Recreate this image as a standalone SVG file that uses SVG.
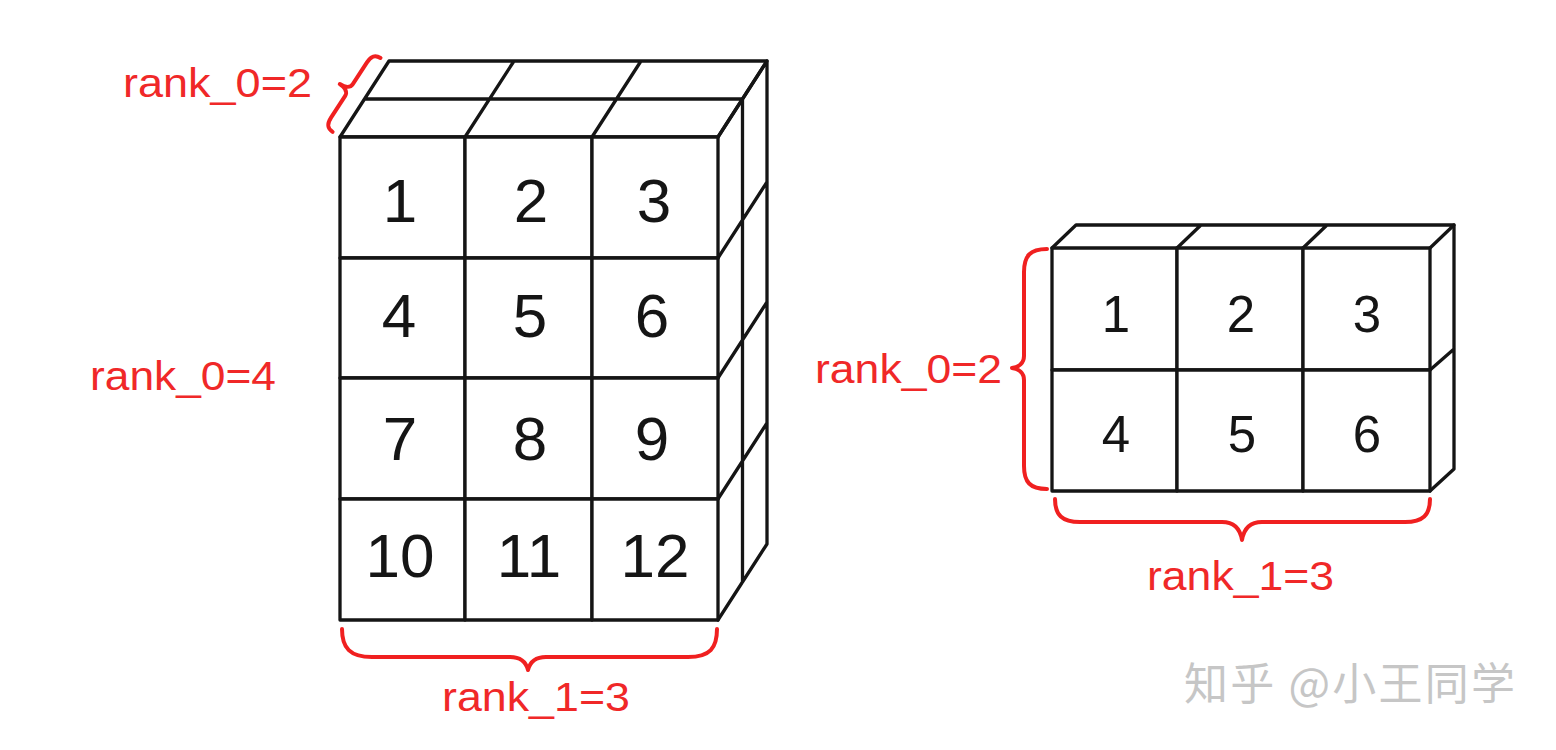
<svg xmlns="http://www.w3.org/2000/svg" width="1556" height="750" viewBox="0 0 1556 750">
<style>
.ln{fill:none;stroke:#151515;stroke-width:3.3;stroke-linejoin:round;stroke-linecap:round}
.cell{fill:#fff;stroke:#151515;stroke-width:3.3;stroke-linejoin:round}
.dl{font-family:"Liberation Sans",Arial,sans-serif;font-size:62px;fill:#151515;text-anchor:middle}
.ds{font-family:"Liberation Sans",Arial,sans-serif;font-size:51px;fill:#151515;text-anchor:middle}
.lab{font-family:"Liberation Sans",Arial,sans-serif;font-size:40px;fill:#f02828}
.br{fill:none;stroke:#f02020;stroke-width:4;stroke-linecap:round;stroke-linejoin:round}
.wm{font-family:"Noto Sans CJK SC","Noto Sans",sans-serif;font-size:44px;fill:#c6c6c6}
</style>
<rect width="1556" height="750" fill="#fff"/>

<g id="tensor-4x3">
  <g id="left-top-face">
    <path class="ln" d="M340,137 L389,61 L767,61 L718,137 Z M364.5,99 L742.5,99 M465,137 L514,61 M592,137 L641,61"/>
  </g>
  <g id="left-side-face">
    <path class="ln" d="M718,137 L767,61 L767,544 L718,620 M742.5,99 L742.5,582 M718,258 L767,182 M718,378 L767,302 M718,499 L767,423"/>
  </g>
  <g id="L1"><rect class="cell" x="340" y="137" width="125" height="121"/><text class="dl" x="400" y="222">1</text></g>
  <g id="L2"><rect class="cell" x="465" y="137" width="127" height="121"/><text class="dl" x="531" y="222">2</text></g>
  <g id="L3"><rect class="cell" x="592" y="137" width="126" height="121"/><text class="dl" x="654" y="222">3</text></g>
  <g id="L4"><rect class="cell" x="340" y="258" width="125" height="120"/><text class="dl" x="399" y="337">4</text></g>
  <g id="L5"><rect class="cell" x="465" y="258" width="127" height="120"/><text class="dl" x="530" y="337">5</text></g>
  <g id="L6"><rect class="cell" x="592" y="258" width="126" height="120"/><text class="dl" x="652" y="337">6</text></g>
  <g id="L7"><rect class="cell" x="340" y="378" width="125" height="121"/><text class="dl" x="400" y="460">7</text></g>
  <g id="L8"><rect class="cell" x="465" y="378" width="127" height="121"/><text class="dl" x="530" y="460">8</text></g>
  <g id="L9"><rect class="cell" x="592" y="378" width="126" height="121"/><text class="dl" x="652" y="460">9</text></g>
  <g id="L10"><rect class="cell" x="340" y="499" width="125" height="121"/><text class="dl" x="400" y="577">10</text></g>
  <g id="L11"><rect class="cell" x="465" y="499" width="127" height="121"/><text class="dl" x="529" y="577">11</text></g>
  <g id="L12"><rect class="cell" x="592" y="499" width="126" height="121"/><text class="dl" x="655" y="577">12</text></g>
</g>

<g id="tensor-2x3">
  <g id="right-top-face">
    <path class="ln" d="M1052,248 L1076,225 L1454,225 L1430,248 M1177,248 L1201,225 M1303,248 L1327,225"/>
  </g>
  <g id="right-side-face">
    <path class="ln" d="M1454,225 L1454,469 L1430,491 M1430,370 L1454,349"/>
  </g>
  <g id="R1"><rect class="cell" x="1052" y="248" width="125" height="122"/><text class="ds" x="1116" y="332">1</text></g>
  <g id="R2"><rect class="cell" x="1177" y="248" width="126" height="122"/><text class="ds" x="1241" y="332">2</text></g>
  <g id="R3"><rect class="cell" x="1303" y="248" width="127" height="122"/><text class="ds" x="1367" y="332">3</text></g>
  <g id="R4"><rect class="cell" x="1052" y="370" width="125" height="121"/><text class="ds" x="1116" y="452">4</text></g>
  <g id="R5"><rect class="cell" x="1177" y="370" width="126" height="121"/><text class="ds" x="1242" y="452">5</text></g>
  <g id="R6"><rect class="cell" x="1303" y="370" width="127" height="121"/><text class="ds" x="1367" y="452">6</text></g>
</g>

<g id="braces">
  <path id="brace-left-depth" class="br" transform="translate(349,90) rotate(33)" d="M9,44 C2,44 0,40 0,33 L0,7 C0,3 -4,0 -11,0 C-4,0 0,-3 0,-7 L0,-33 C0,-40 2,-44 9,-44"/>
  <path id="brace-left-bottom" class="br" d="M342,629 C342,648 350,657 372,657 L510,657 C521,657 526,662 528,670 C530,662 535,657 546,657 L688,657 C710,657 717,648 717,629"/>
  <path id="brace-right-left" class="br" d="M1047,249 C1030,249 1024,256 1024,272 L1024,356 C1024,363 1019,367 1012,368 C1019,369 1024,373 1024,380 L1024,466 C1024,482 1030,489 1047,489"/>
  <path id="brace-right-bottom" class="br" d="M1055,499 C1055,515 1062,522 1080,522 L1222,522 C1234,522 1240,528 1242,540 C1244,528 1250,522 1262,522 L1405,522 C1423,522 1430,515 1430,499"/>
</g>

<g id="labels">
  <text id="lab-l-depth" class="lab" x="123" y="97" textLength="189" lengthAdjust="spacingAndGlyphs">rank_0=2</text>
  <text id="lab-l-rows" class="lab" x="90" y="390" textLength="186" lengthAdjust="spacingAndGlyphs">rank_0=4</text>
  <text id="lab-l-cols" class="lab" x="442" y="711" textLength="188" lengthAdjust="spacingAndGlyphs">rank_1=3</text>
  <text id="lab-r-rows" class="lab" x="815" y="383" textLength="187" lengthAdjust="spacingAndGlyphs">rank_0=2</text>
  <text id="lab-r-cols" class="lab" x="1147" y="590" textLength="187" lengthAdjust="spacingAndGlyphs">rank_1=3</text>
</g>

<text id="watermark" class="wm" x="1184" y="700" textLength="331" lengthAdjust="spacing">知乎 @小王同学</text>
</svg>
